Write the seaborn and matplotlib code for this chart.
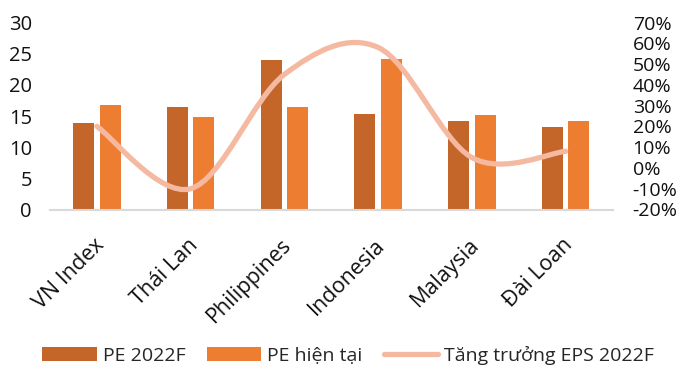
import numpy as np
import pandas as pd
import matplotlib
matplotlib.use("Agg")
import matplotlib.pyplot as plt
from matplotlib.path import Path
from matplotlib.patches import PathPatch, Patch
from matplotlib.lines import Line2D
from matplotlib.transforms import ScaledTranslation
import seaborn as sns

# Market data
markets = ["VN Index", "Thái Lan", "Philippines", "Indonesia", "Malaysia", "Đài Loan"]
pe_2022f = [13.9, 16.4, 24.0, 15.3, 14.2, 13.2]
pe_current = [16.7, 14.8, 16.5, 24.1, 15.2, 14.2]
eps_growth = [20, -10, 45, 58, 5, 8]  # percent

series_names = ["PE 2022F", "PE hiện tại", "Tăng trưởng EPS 2022F"]
left_ticks = [0, 5, 10, 15, 20, 25, 30]
right_ticks = [-20, -10, 0, 10, 20, 30, 40, 50, 60, 70]

c_pe22 = "#C4652A"
c_pecur = "#ED7D31"
c_eps = "#F4B9A0"

sns.set_theme(style="white")
plt.rcParams["font.family"] = ["Open Sans", "DejaVu Sans"]
FS = 14.5
FS_R = 14
FS_X = 15.5
FS_LEG = 14

df = pd.DataFrame({
    "market": markets * 2,
    "series": [series_names[0]] * len(markets) + [series_names[1]] * len(markets),
    "pe": pe_2022f + pe_current,
})

fig = plt.figure(figsize=(6.81, 3.70), dpi=100)
ax = fig.add_axes([50 / 681, 1 - 209.5 / 370, 562.5 / 681, 187 / 370])

sns.barplot(data=df, x="market", y="pe", hue="series",
            palette=[c_pe22, c_pecur], width=0.568, gap=0.21,
            saturation=1, edgecolor="none", legend=False, ax=ax)
ax.set_xlim(-0.5, len(markets) - 0.5)
ax.set_ylim(0, 30)
ax.set_yticks(left_ticks)
ax.set_yticklabels([str(t) for t in left_ticks], fontsize=FS, color="#111111")
ax.set_xlabel("")
ax.set_ylabel("")
for s in ["top", "left", "right"]:
    ax.spines[s].set_visible(False)
ax.spines["bottom"].set_color("#D9D9D9")
ax.spines["bottom"].set_linewidth(1.5)
ax.tick_params(axis="y", length=0, pad=13)
ax.tick_params(axis="x", length=0, pad=14)
ax.set_xticks(range(len(markets)))
ax.set_xticklabels(markets, rotation=45, ha="right", va="center",
                   rotation_mode="anchor", fontsize=FS_X, color="#111111")
shift = ScaledTranslation(4 / 100, -13 / 100, fig.dpi_scale_trans)
for lab in ax.get_xticklabels():
    lab.set_transform(lab.get_transform() + shift)

# EPS growth on secondary axis, drawn as a smoothed curve through the points
ax2 = ax.twinx()
ax2.set_ylim(-20, 70)
ax2.set_yticks(right_ticks)
ax2.set_yticklabels([f"{t}%" for t in right_ticks], fontsize=FS_R, color="#111111")
ax2.tick_params(axis="y", length=0, pad=14.5)
for s in ax2.spines.values():
    s.set_visible(False)
ax2.grid(False)
ax.grid(False)

pts = np.column_stack([np.arange(len(eps_growth), dtype=float), np.array(eps_growth, float)])
ext = np.vstack([pts[0], pts, pts[-1]])
verts = [tuple(pts[0])]
codes = [Path.MOVETO]
for i in range(len(pts) - 1):
    p0, p1, p2, p3 = ext[i], ext[i + 1], ext[i + 2], ext[i + 3]
    c1 = p1 + (p2 - p0) / 6
    c2 = p2 - (p3 - p1) / 6
    verts += [tuple(c1), tuple(c2), tuple(p2)]
    codes += [Path.CURVE4] * 3
curve = PathPatch(Path(verts, codes), facecolor="none", edgecolor=c_eps,
                  linewidth=3.8, capstyle="round", joinstyle="round")
ax2.add_patch(curve)

handles = [Patch(facecolor=c_pe22, edgecolor="none"),
           Patch(facecolor=c_pecur, edgecolor="none"),
           Line2D([0], [0], color=c_eps, linewidth=3.8, solid_capstyle="round")]
fig.legend(handles, series_names, loc="center", bbox_to_anchor=(0.511, 1 - 355 / 370),
           ncol=3, frameon=False, fontsize=FS_LEG, handlelength=2.8, handleheight=0.7,
           handletextpad=0.3, columnspacing=1.1)

fig.savefig("out.png", dpi=100)
